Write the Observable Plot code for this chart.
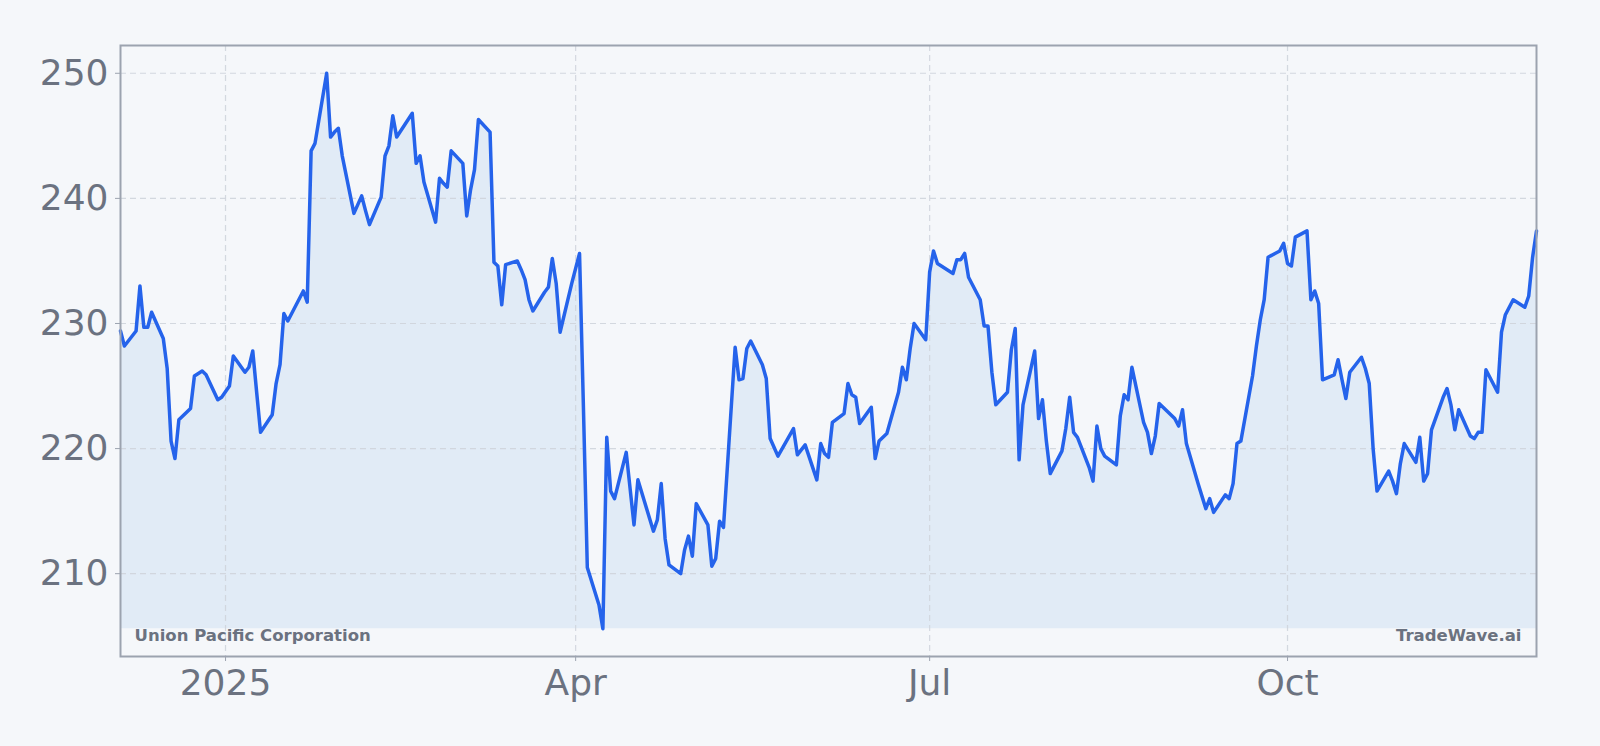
<!DOCTYPE html>
<html>
<head>
<meta charset="utf-8">
<script src="https://cdn.jsdelivr.net/npm/d3@7"></script>
<script src="https://cdn.jsdelivr.net/npm/@observablehq/plot@0.6"></script>
<style>
  html, body { margin: 0; padding: 0; background: #f5f7fa; }
  #chart { width: 1600px; height: 746px; }
</style>
</head>
<body>
<div id="chart"></div>
<script>
const company = "Union Pacific Corporation";
const brand = "TradeWave.ai";

const dates = [
  "2024-12-05","2024-12-06","2024-12-09","2024-12-10","2024-12-11","2024-12-12","2024-12-13",
  "2024-12-16","2024-12-17","2024-12-18","2024-12-19","2024-12-20","2024-12-23","2024-12-24",
  "2024-12-26","2024-12-27","2024-12-30","2024-12-31","2025-01-02","2025-01-03","2025-01-06",
  "2025-01-07","2025-01-08","2025-01-09","2025-01-10","2025-01-13","2025-01-14","2025-01-15",
  "2025-01-16","2025-01-17","2025-01-21","2025-01-22","2025-01-23","2025-01-24","2025-01-27",
  "2025-01-28","2025-01-29","2025-01-30","2025-01-31","2025-02-03","2025-02-04","2025-02-05",
  "2025-02-06","2025-02-07","2025-02-10","2025-02-11","2025-02-12","2025-02-13","2025-02-14",
  "2025-02-18","2025-02-19","2025-02-20","2025-02-21","2025-02-24","2025-02-25","2025-02-26",
  "2025-02-27","2025-02-28","2025-03-03","2025-03-04","2025-03-05","2025-03-06","2025-03-07",
  "2025-03-10","2025-03-11","2025-03-12","2025-03-13","2025-03-14","2025-03-17","2025-03-18",
  "2025-03-19","2025-03-20","2025-03-21","2025-03-24","2025-03-25","2025-03-26","2025-03-27",
  "2025-03-28","2025-03-31","2025-04-01","2025-04-02","2025-04-03","2025-04-04","2025-04-07",
  "2025-04-08","2025-04-09","2025-04-10","2025-04-11","2025-04-14","2025-04-15","2025-04-16",
  "2025-04-17","2025-04-21","2025-04-22","2025-04-23","2025-04-24","2025-04-25","2025-04-28",
  "2025-04-29","2025-04-30","2025-05-01","2025-05-02","2025-05-05","2025-05-06","2025-05-07",
  "2025-05-08","2025-05-09","2025-05-12","2025-05-13","2025-05-14","2025-05-15","2025-05-16",
  "2025-05-19","2025-05-20","2025-05-21","2025-05-22","2025-05-23","2025-05-27","2025-05-28",
  "2025-05-29","2025-05-30","2025-06-02","2025-06-03","2025-06-04","2025-06-05","2025-06-06",
  "2025-06-09","2025-06-10","2025-06-11","2025-06-12","2025-06-13","2025-06-16","2025-06-17",
  "2025-06-18","2025-06-20","2025-06-23","2025-06-24","2025-06-25","2025-06-26","2025-06-27",
  "2025-06-30","2025-07-01","2025-07-02","2025-07-03","2025-07-07","2025-07-08","2025-07-09",
  "2025-07-10","2025-07-11","2025-07-14","2025-07-15","2025-07-16","2025-07-17","2025-07-18",
  "2025-07-21","2025-07-22","2025-07-23","2025-07-24","2025-07-25","2025-07-28","2025-07-29",
  "2025-07-30","2025-07-31","2025-08-01","2025-08-04","2025-08-05","2025-08-06","2025-08-07",
  "2025-08-08","2025-08-11","2025-08-12","2025-08-13","2025-08-14","2025-08-15","2025-08-18",
  "2025-08-19","2025-08-20","2025-08-21","2025-08-22","2025-08-25","2025-08-26","2025-08-27",
  "2025-08-28","2025-08-29","2025-09-02","2025-09-03","2025-09-04","2025-09-05","2025-09-08",
  "2025-09-09","2025-09-10","2025-09-11","2025-09-12","2025-09-15","2025-09-16","2025-09-17",
  "2025-09-18","2025-09-19","2025-09-22","2025-09-23","2025-09-24","2025-09-25","2025-09-26",
  "2025-09-29","2025-09-30","2025-10-01","2025-10-02","2025-10-03","2025-10-06","2025-10-07",
  "2025-10-08","2025-10-09","2025-10-10","2025-10-13","2025-10-14","2025-10-15","2025-10-16",
  "2025-10-17","2025-10-20","2025-10-21","2025-10-22","2025-10-23","2025-10-24","2025-10-27",
  "2025-10-28","2025-10-29","2025-10-30","2025-10-31","2025-11-03","2025-11-04","2025-11-05",
  "2025-11-06","2025-11-07","2025-11-10","2025-11-11","2025-11-12","2025-11-13","2025-11-14",
  "2025-11-17","2025-11-18","2025-11-19","2025-11-20","2025-11-21","2025-11-24","2025-11-25",
  "2025-11-26","2025-11-28","2025-12-01","2025-12-02","2025-12-03","2025-12-04"
];

const closes = [
  229.4,228.2,229.4,233.0,229.7,229.7,230.9,
  228.8,226.4,220.6,219.2,222.3,223.2,225.8,
  226.2,225.9,223.9,224.1,225.0,227.4,226.1,
  226.5,227.8,224.5,221.3,222.7,225.2,226.7,
  230.8,230.2,232.6,231.7,243.8,244.4,250.0,
  244.9,245.3,245.6,243.4,238.8,239.5,240.2,
  239.0,237.9,240.1,243.4,244.2,246.6,244.9,
  246.8,242.8,243.4,241.3,238.1,241.6,241.2,
  240.9,243.8,242.8,238.6,240.7,242.3,246.3,
  245.3,234.9,234.6,231.5,234.7,235.0,234.3,
  233.5,231.9,231.0,232.5,232.9,235.2,233.2,
  229.3,233.2,234.4,235.6,223.3,210.5,207.5,
  205.6,220.9,216.6,216.0,219.7,216.8,213.9,
  217.5,213.4,214.3,217.2,212.8,210.7,210.0,
  211.9,213.0,211.4,215.6,213.9,210.6,211.2,
  214.2,213.7,228.1,225.5,225.6,228.0,228.6,
  226.7,225.6,220.8,220.1,219.4,221.6,219.5,
  219.9,220.3,217.5,220.4,219.6,219.3,222.1,
  222.8,225.2,224.3,224.1,222.0,223.3,219.2,
  220.6,221.2,224.5,226.5,225.5,228.0,230.0,
  228.7,234.1,235.8,234.8,234.0,235.1,235.1,
  235.6,233.7,231.9,229.8,229.8,226.1,223.5,
  224.5,227.9,229.6,219.1,223.5,227.8,222.4,
  223.9,220.6,218.0,219.8,221.6,224.1,221.3,
  220.9,218.5,217.4,221.8,220.0,219.4,218.7,
  222.6,224.3,223.9,226.5,222.1,221.3,219.6,
  221.0,223.6,222.4,221.8,223.1,220.4,217.2,
  216.2,215.2,216.0,214.9,216.3,216.0,217.2,
  220.4,220.6,225.8,228.2,230.3,231.9,235.3,
  235.8,236.4,234.8,234.6,236.9,237.4,231.9,
  232.6,231.6,225.5,225.9,227.1,225.5,224.0,
  226.1,227.3,226.4,225.2,220.0,216.6,218.2,
  217.4,216.4,218.8,220.4,218.9,220.9,217.4,
  218.0,221.5,224.1,224.8,223.5,221.5,223.1,
  221.0,220.8,221.3,221.3,226.3,224.5,229.3,
  230.7,231.9,231.3,232.2,235.3,237.4
];

const xTickDates = ["2025-01-01","2025-04-01","2025-07-01","2025-10-01"];
const xTickLabels = ["2025","Apr","Jul","Oct"];
const yTicks = [210, 220, 230, 240, 250];

const data = dates.map((d, i) => ({date: new Date(d + "T00:00:00Z"), close: closes[i]}));
const xTicks = xTickDates.map(d => new Date(d + "T00:00:00Z"));
const lo = d3.min(closes), hi = d3.max(closes);
const pad = (hi - lo) * 0.05;

const tickFmt = d => {
  const i = xTicks.findIndex(t => +t === +d);
  return i >= 0 ? xTickLabels[i] : "";
};

const gridStyle = {stroke: "#cfd4db", strokeOpacity: 0.9, strokeWidth: 1.2, strokeDasharray: "6,4"};

const chart = Plot.plot({
  width: 1600,
  height: 746,
  marginLeft: 120,
  marginRight: 64,
  marginTop: 45,
  marginBottom: 90,
  style: {background: "transparent", fontFamily: "'DejaVu Sans', sans-serif", color: "#6b7280", overflow: "visible"},
  x: {type: "utc", domain: d3.extent(data, d => d.date)},
  y: {domain: [lo - pad, hi + pad]},
  marks: [
    Plot.areaY(data, {x: "date", y1: lo, y2: "close", fill: "#e1ebf6", fillOpacity: 1}),
    Plot.gridX(xTicks, gridStyle),
    Plot.gridY(yTicks, gridStyle),
    Plot.lineY(data, {x: "date", y: "close", stroke: "#2563eb", strokeWidth: 3.5, strokeLinejoin: "round"}),
    Plot.frame({stroke: "#9ca3af", strokeWidth: 2}),
    Plot.axisX(xTicks, {tickFormat: tickFmt, fontSize: 36, tickSize: 5, tickPadding: 8, label: null, stroke: "#9ca3af", fill: "#6b7280"}),
    Plot.axisY(yTicks, {fontSize: 36, tickSize: 5, tickPadding: 7, label: null, stroke: "#9ca3af", fill: "#6b7280"}),
    Plot.text([company], {frameAnchor: "bottom-left", textAnchor: "start", lineAnchor: "bottom", dx: 14, dy: -16, fontSize: 16.5, fontWeight: "bold", fill: "#6b7280"}),
    Plot.text([brand], {frameAnchor: "bottom-right", textAnchor: "end", lineAnchor: "bottom", dx: -15, dy: -16, fontSize: 16.5, fontWeight: "bold", fill: "#6b7280"})
  ]
});
document.getElementById("chart").appendChild(chart);
</script>
</body>
</html>
